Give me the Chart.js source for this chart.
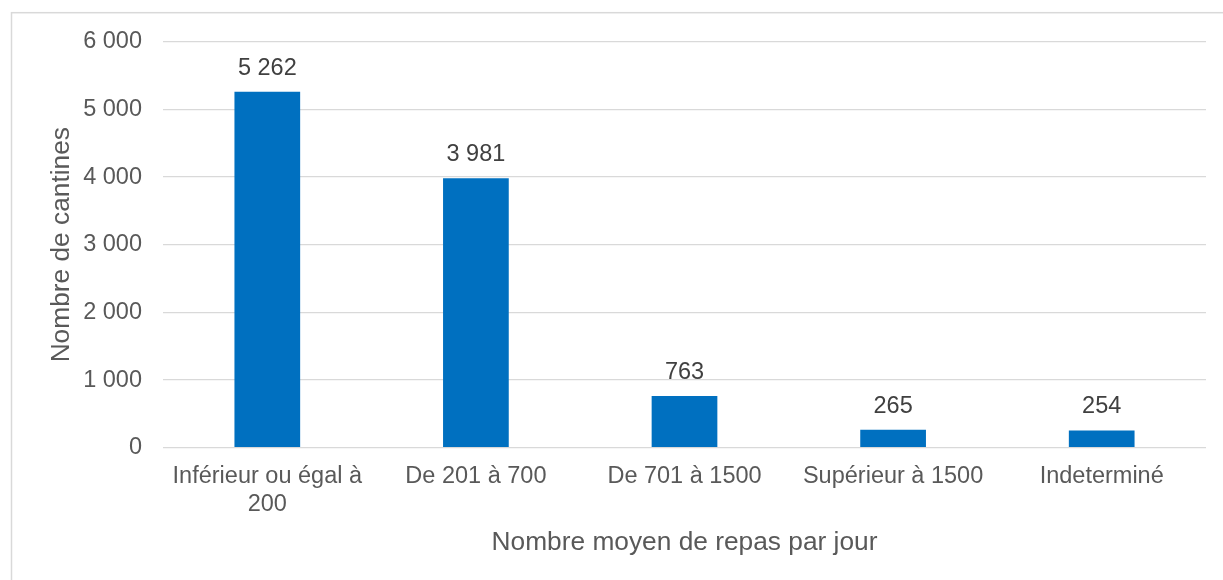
<!DOCTYPE html>
<html>
<head>
<meta charset="utf-8">
<script src="https://cdn.jsdelivr.net/npm/chart.js@4/dist/chart.umd.min.js"></script>
<style>
  html, body { margin: 0; padding: 0; background: #fff; }
  #wrap { position: relative; width: 1223px; height: 580px; }
</style>
</head>
<body>
<div id="wrap"><canvas id="chart"></canvas></div>
<script>
// Data
const categories = [['Inférieur ou égal à', '200'], 'De 201 à 700', 'De 701 à 1500', 'Supérieur à 1500', 'Indeterminé'];
const cantines = [5262, 3981, 763, 265, 254];
const yTicks = [0, 1000, 2000, 3000, 4000, 5000, 6000];

const FONT = '"Liberation Sans", Arial, sans-serif';

function formatNumber(v) {
    return String(v).replace(/\B(?=(\d{3})+(?!\d))/g, ' ');
}

// Light grey frame around the chart (cut off at right and bottom)
const framePlugin = {
    id: 'frame',
    beforeDraw(chart) {
        const ctx = chart.ctx;
        ctx.save();
        ctx.fillStyle = '#ffffff';
        ctx.fillRect(0, 0, chart.width, chart.height);
        ctx.strokeStyle = '#d9d9d9';
        ctx.lineWidth = 1.5;
        ctx.strokeRect(11.5, 12.7, 1400, 800);
        ctx.restore();
    }
};

// Values above the bars
const valueLabels = {
    id: 'valueLabels',
    afterDatasetsDraw(chart) {
        const ctx = chart.ctx;
        ctx.save();
        ctx.font = '23.5px ' + FONT;
        ctx.fillStyle = '#404040';
        ctx.textAlign = 'center';
        ctx.textBaseline = 'middle';
        chart.getDatasetMeta(0).data.forEach((bar, i) => {
            ctx.fillText(formatNumber(cantines[i]), bar.x, bar.y - 23.5);
        });
        ctx.restore();
    }
};

const ctx = document.getElementById('chart').getContext('2d');
new Chart(ctx, {
    type: 'bar',
    data: {
        labels: categories,
        datasets: [{
            label: 'Nombre de cantines',
            data: cantines,
            backgroundColor: '#0070c0',
            borderWidth: 0,
            barPercentage: 0.63,
            categoryPercentage: 0.5
        }]
    },
    options: {
        responsive: true,
        maintainAspectRatio: false,
        animation: false,
        layout: {
            padding: { left: 12, top: 41.7, right: 17, bottom: 21.5 }
        },
        plugins: {
            legend: { display: false },
            tooltip: { enabled: false }
        },
        scales: {
            x: {
                grid: { display: false, drawTicks: false },
                border: { display: false },
                ticks: {
                    color: '#595959',
                    font: { family: FONT, size: 23.5 },
                    padding: 15,
                    maxRotation: 0,
                    autoSkip: false
                },
                title: {
                    display: true,
                    text: 'Nombre moyen de repas par jour',
                    color: '#595959',
                    font: { family: FONT, size: 26.3 },
                    padding: { top: 0, bottom: 0 }
                },
                afterFit(scale) { scale.height = 110.8; }
            },
            y: {
                min: 0,
                max: 6000,
                afterBuildTicks(scale) {
                    scale.ticks = yTicks.map(v => ({ value: v }));
                },
                grid: { color: '#d9d9d9', lineWidth: 1.3, drawTicks: false },
                border: { display: false },
                ticks: {
                    color: '#595959',
                    font: { family: FONT, size: 23.5 },
                    padding: 21,
                    callback: v => formatNumber(v)
                },
                title: {
                    display: true,
                    text: 'Nombre de cantines',
                    color: '#595959',
                    font: { family: FONT, size: 26.3 },
                    padding: { top: 34, bottom: 0 }
                },
                afterFit(scale) { scale.width = 151; }
            }
        }
    },
    plugins: [framePlugin, valueLabels]
});
</script>
</body>
</html>
